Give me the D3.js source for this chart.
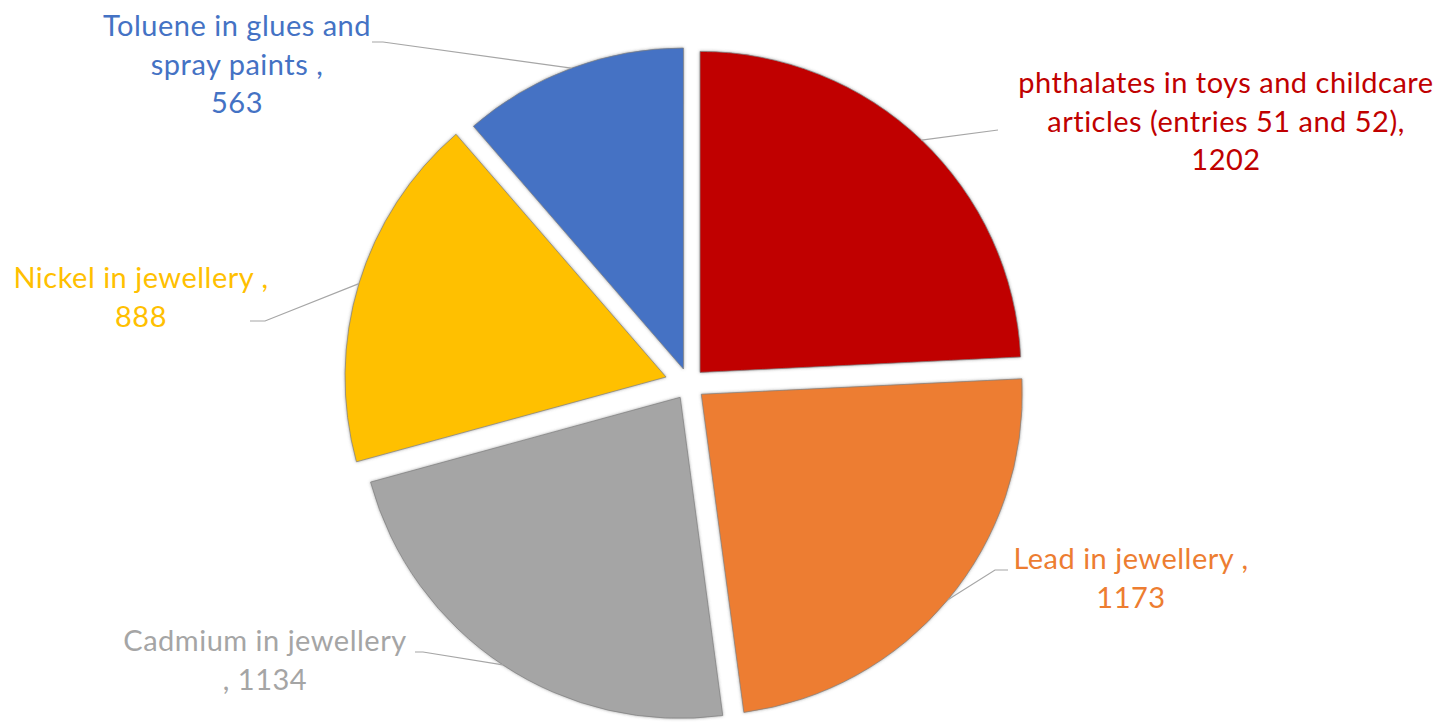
<!DOCTYPE html>
<html>
<head>
    <meta charset="utf-8">
    <script src="https://d3js.org/d3.v7.min.js"></script>
    <title>Restriction entries</title>
    <style>
        body { margin: 0; background: #fff; }
        .label { font-family: Lato, "Open Sans", sans-serif; font-size: 29px; letter-spacing: 0.5px; }
        .leader { fill: none; stroke: #a6a6a6; stroke-width: 1.2px; }
    </style>
</head>
<body>
    <svg width="1440" height="722"></svg>
    <script>
        // data, clockwise from 12 o'clock
        const categories = [
            "phthalates in toys and childcare articles (entries 51 and 52)",
            "Lead in jewellery",
            "Cadmium in jewellery",
            "Nickel in jewellery",
            "Toluene in glues and spray paints"
        ];
        const values = [1202, 1173, 1134, 888, 563];
        const colors = ["#c00000", "#ed7d31", "#a5a5a5", "#ffc000", "#4472c4"];
        // label text as wrapped in the chart, {v} is the value
        const labelLines = [
            ["phthalates in toys and childcare", "articles (entries 51 and 52),", "{v}"],
            ["Lead in jewellery ,", "{v}"],
            ["Cadmium in jewellery", ", {v}"],
            ["Nickel in jewellery ,", "{v}"],
            ["Toluene in glues and", "spray paints ,", "{v}"]
        ];

        // layout only
        const explode = [16, 16, 16, 24, 16];
        const labelPos = [
            { x: 1226, y: 93, elbow: [998, 130], end: [998, 130] },
            { x: 1131, y: 569, elbow: [995, 570], end: [1008, 570] },
            { x: 265, y: 651, elbow: [423, 652], end: [415, 652] },
            { x: 141, y: 288, elbow: [265, 321], end: [250, 321] },
            { x: 237, y: 36, elbow: [383, 42], end: [372, 42] }
        ];

        const width = 1440, height = 722;
        const cx = 689, cy = 384, radius = 321, lineH = 38.5;

        const svg = d3.select("svg");

        const defs = svg.append("defs");
        const f = defs.append("filter").attr("id", "soft")
            .attr("x", "-10%").attr("y", "-10%").attr("width", "120%").attr("height", "120%");
        f.append("feDropShadow").attr("dx", 0).attr("dy", 0).attr("stdDeviation", 1.6)
            .attr("flood-color", "#555").attr("flood-opacity", 0.55);

        const pie = d3.pie().sort(null).value(d => d);
        const arcs = pie(values);
        const arc = d3.arc().innerRadius(0).outerRadius(radius);

        const g = svg.append("g").attr("transform", `translate(${cx},${cy})`);

        function offset(d, i) {
            const mid = (d.startAngle + d.endAngle) / 2;
            return [Math.sin(mid) * explode[i], -Math.cos(mid) * explode[i]];
        }

        g.selectAll("path.slice")
            .data(arcs)
            .enter().append("path")
            .attr("class", "slice")
            .attr("d", arc)
            .attr("fill", (d, i) => colors[i])
            .attr("stroke", "#7f7f7f")
            .attr("stroke-width", 0.7)
            .attr("filter", "url(#soft)")
            .attr("transform", (d, i) => {
                const o = offset(d, i);
                return `translate(${o[0]},${o[1]})`;
            });

        // leader lines from the middle of each outer arc
        const line = d3.line();
        svg.append("g").selectAll("path")
            .data(arcs)
            .enter().append("path")
            .attr("class", "leader")
            .attr("d", (d, i) => {
                const mid = (d.startAngle + d.endAngle) / 2;
                const o = offset(d, i);
                const p = [cx + o[0] + Math.sin(mid) * radius, cy + o[1] - Math.cos(mid) * radius];
                return line([p, labelPos[i].elbow, labelPos[i].end]);
            });

        // labels
        const labels = svg.append("g").selectAll("text")
            .data(arcs)
            .enter().append("text")
            .attr("class", "label")
            .attr("text-anchor", "middle")
            .attr("fill", (d, i) => colors[i]);

        labels.each(function(d, i) {
            const t = d3.select(this);
            labelLines[i].forEach((s, k) => {
                t.append("tspan")
                    .attr("x", labelPos[i].x)
                    .attr("y", labelPos[i].y + k * lineH)
                    .text(s.replace("{v}", values[i]));
            });
        });
    </script>
</body>
</html>
